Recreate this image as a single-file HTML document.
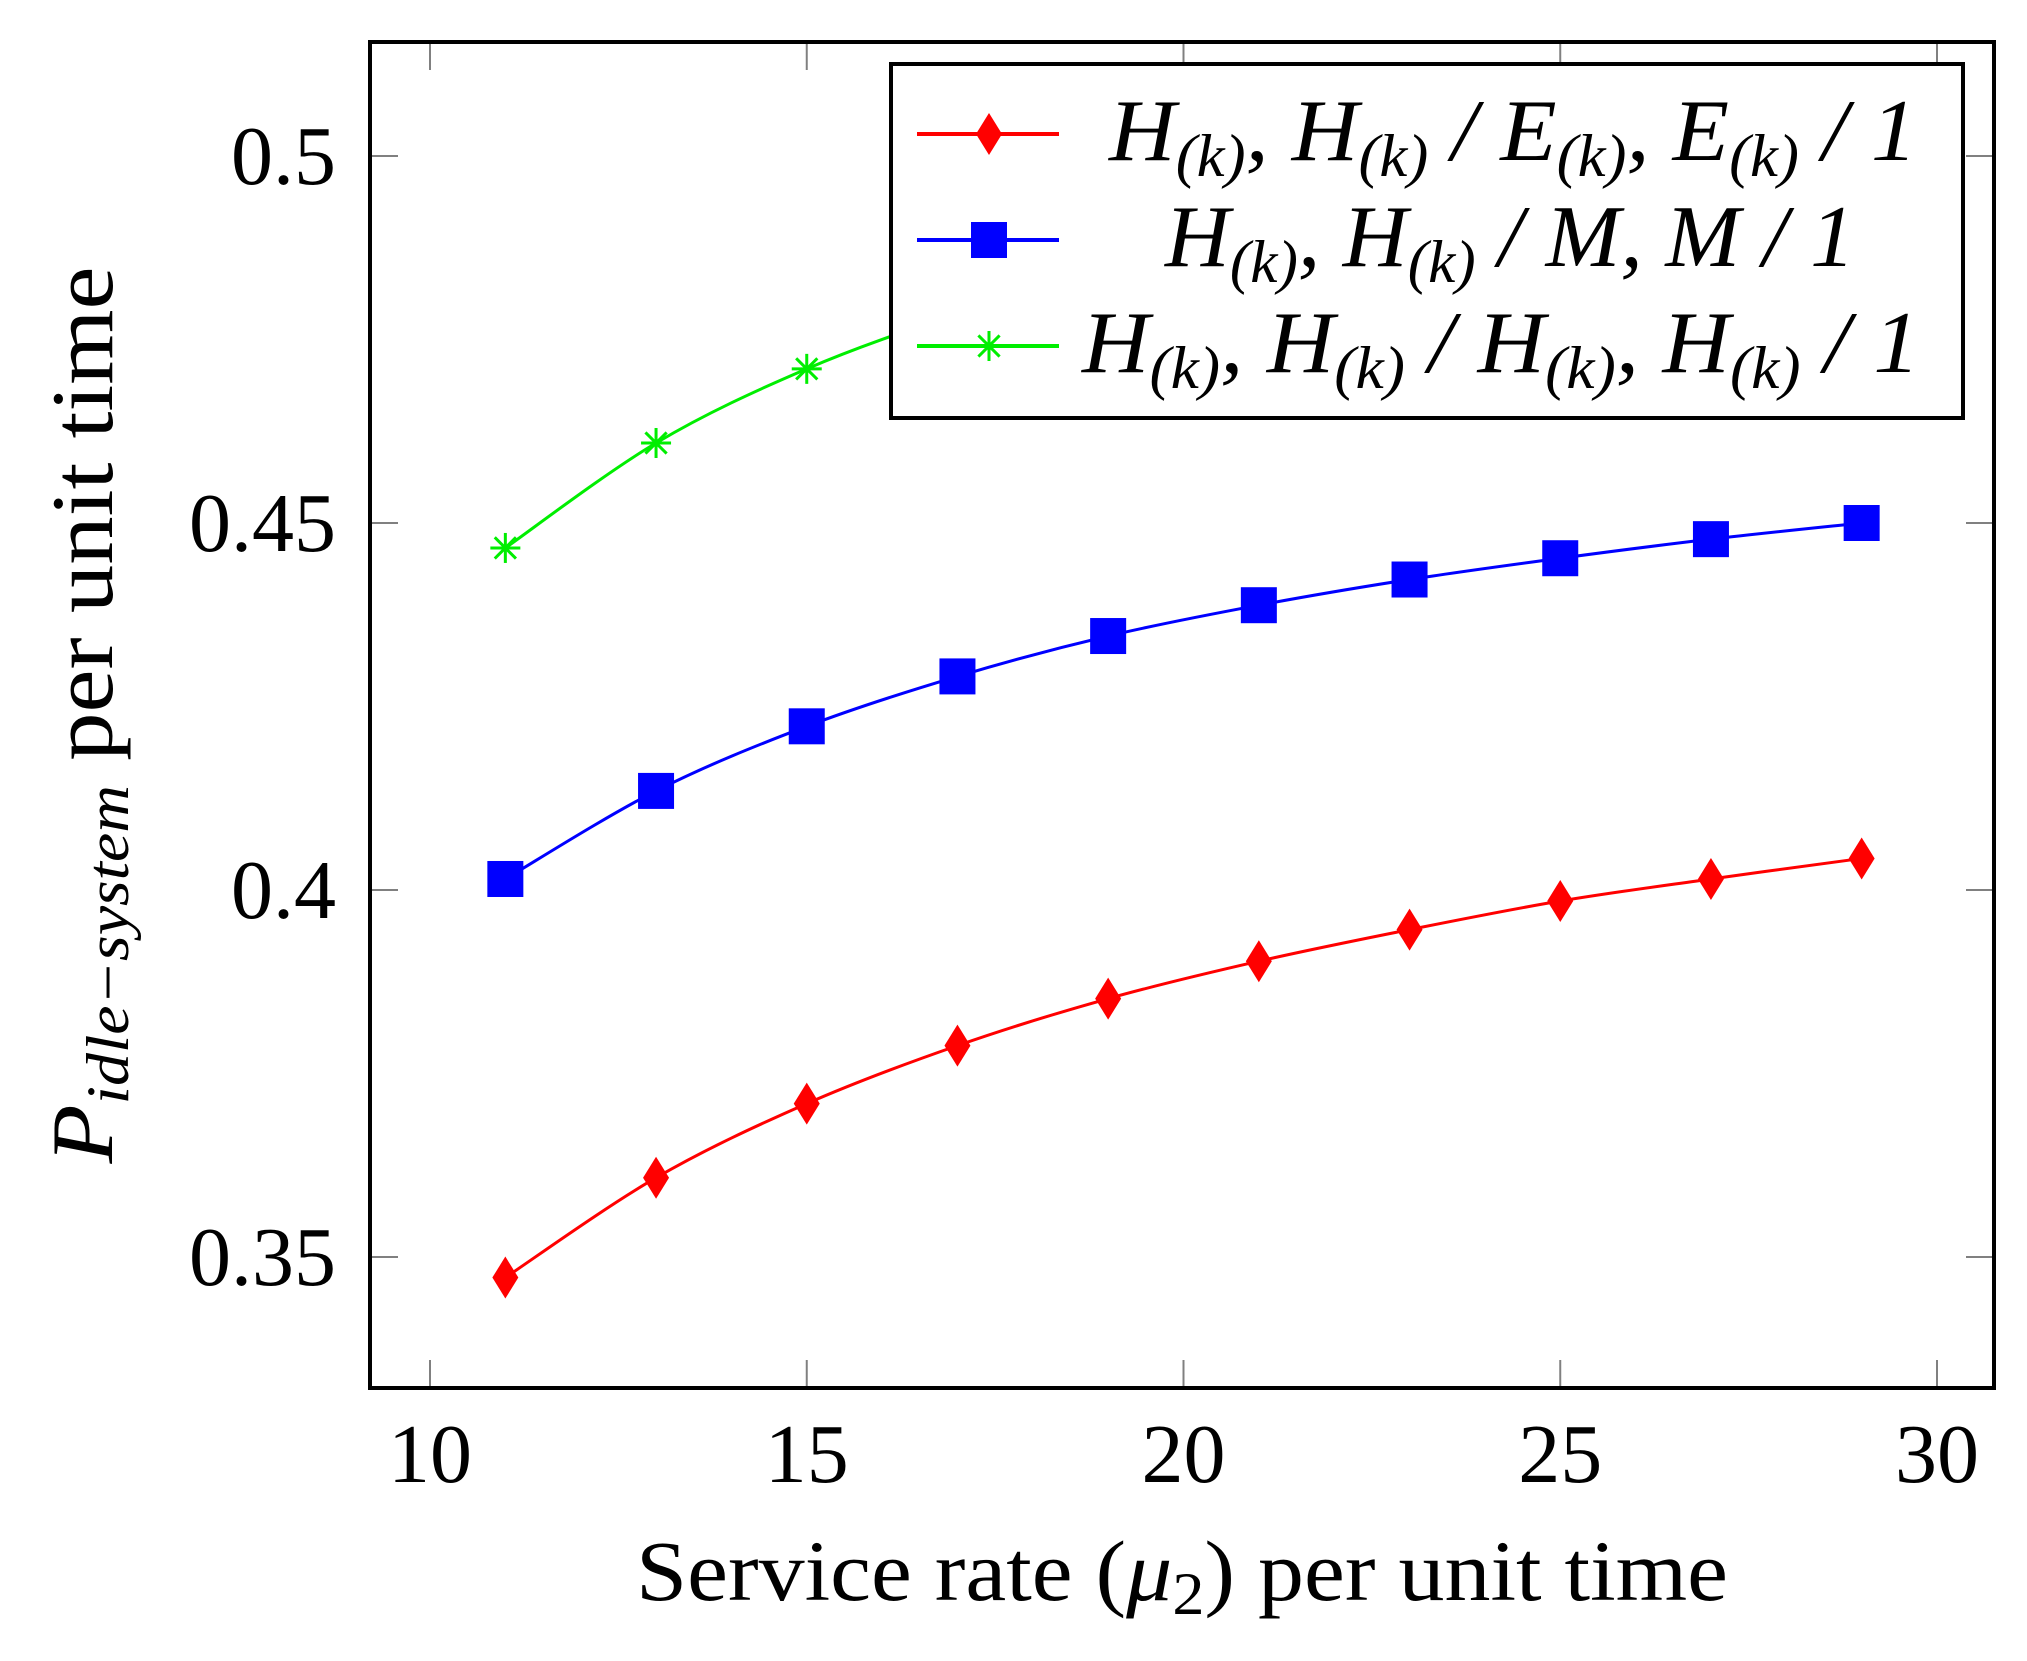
<!DOCTYPE html>
<html><head><meta charset="utf-8"><style>
html,body{margin:0;padding:0;background:#fff;}
svg{display:block;font-family:"Liberation Serif",serif;}
</style></head><body>
<svg id="chart" width="2027" height="1661" viewBox="0 0 2027 1661" xmlns="http://www.w3.org/2000/svg">
<g id="grid"></g>
<g id="series"></g>
<rect x="370" y="42" width="1624" height="1346" fill="none" stroke="#000" stroke-width="4"/>
<g id="labels"></g>
<text x="1182" y="1600" text-anchor="middle" font-size="86" textLength="1092" lengthAdjust="spacingAndGlyphs">Service rate (<tspan font-style="italic">μ</tspan><tspan font-size="60" dy="14">2</tspan><tspan dy="-14">) per unit time</tspan></text>
<text transform="translate(112,715) rotate(-90)" text-anchor="middle" font-size="88" textLength="897" lengthAdjust="spacingAndGlyphs"><tspan font-style="italic">P</tspan><tspan font-style="italic" font-size="60" dy="16">idle−system</tspan><tspan dy="-16"> per unit time</tspan></text>
<g id="legend">
<rect x="891" y="64" width="1072" height="354" fill="#fff" stroke="#000" stroke-width="4"/>
</g>
</svg>
<script>
const xValues = [11,13,15,17,19,21,23,25,27,29];
const redValues = [0.3472,0.3608,0.3709,0.3788,0.3852,0.3903,0.3946,0.3985,0.4015,0.4043];
const blueValues = [0.4015,0.4135,0.4223,0.4291,0.4346,0.4388,0.4423,0.4452,0.4478,0.4500];
const greenValues = [0.4466,0.4609,0.4710,0.4785,0.4845,0.4890,0.4925,0.4955,0.4980,0.5003];
const xTicks = [10,15,20,25,30];
const yTicks = [0.35,0.4,0.45,0.5];
const yTickLabels = ["0.35","0.4","0.45","0.5"];

const NS="http://www.w3.org/2000/svg";
const xs = v => 430 + (v-10)*(1937-430)/20;
const ys = v => 890 - (v-0.4)*(367/0.05);
function mk(tag, attrs, parent){const e=document.createElementNS(NS,tag);for(const k in attrs)e.setAttribute(k,attrs[k]);parent.appendChild(e);return e;}
const grid=document.getElementById('grid'), labels=document.getElementById('labels'), series=document.getElementById('series'), legend=document.getElementById('legend');

xTicks.forEach(t=>{
  const x=xs(t);
  let a=mk('line',{x1:x,x2:x,y1:1388,y2:1360,stroke:'#808080','stroke-width':2},grid);
  
  
  let b=mk('line',{x1:x,x2:x,y1:42,y2:70,stroke:'#808080','stroke-width':2},grid);
  
  
  const tx=mk('text',{x:x,y:1482,'text-anchor':'middle','font-size':84},labels);
  tx.textContent=t;
  
  
});
yTicks.forEach((t,i)=>{
  const y=ys(t);
  let a=mk('line',{x1:370,x2:398,y1:y,y2:y,stroke:'#808080','stroke-width':2},grid);
  
  
  let b=mk('line',{x1:1966,x2:1994,y1:y,y2:y,stroke:'#808080','stroke-width':2},grid);
  
  
  const tx=mk('text',{x:336,y:y+28,'text-anchor':'end','font-size':84},labels);
  tx.textContent=yTickLabels[i];
  
  
});

function marker(kind,x,y,color,parent){
  let e;
  if(kind==='diamond'){e=mk('polygon',{points:`${x},${y-21} ${x+13},${y} ${x},${y+21} ${x-13},${y}`,fill:color},parent);}
  else if(kind==='square'){e=mk('rect',{x:x-18,y:y-18,width:36,height:36,fill:color},parent);}
  else {e=mk('g',{stroke:color,'stroke-width':3},parent);
    for(let k=0;k<4;k++){const a=k*Math.PI/4;mk('line',{x1:x-15*Math.cos(a),y1:y-15*Math.sin(a),x2:x+15*Math.cos(a),y2:y+15*Math.sin(a)},e);}}
  return e;
}
const defs=[{vals:redValues,color:'#ff0000',kind:'diamond',name:'red'},{vals:blueValues,color:'#0000ff',kind:'square',name:'blue'},{vals:greenValues,color:'#00ee00',kind:'star',name:'green'}];
defs.forEach(d=>{
  const pts=xValues.map((x,i)=>[xs(x),ys(d.vals[i])]);
  let p='M'+pts[0][0]+','+pts[0][1];
  for(let i=0;i<pts.length-1;i++){
    const p0=pts[Math.max(0,i-1)],p1=pts[i],p2=pts[i+1],p3=pts[Math.min(pts.length-1,i+2)];
    p+=` C${p1[0]+(p2[0]-p0[0])/6},${p1[1]+(p2[1]-p0[1])/6} ${p2[0]-(p3[0]-p1[0])/6},${p2[1]-(p3[1]-p1[1])/6} ${p2[0]},${p2[1]}`;
  }
  const g=mk('g',{},series);
  
  
  const path=mk('path',{d:p,fill:'none',stroke:d.color,'stroke-width':3},g);
  
  
  pts.forEach(pt=>{const m=marker(d.kind,pt[0],pt[1],d.color,g);
    
    });
});

const rowsY=[134,240,346];
const rowCenters=[1513,1510,1501];
const rowWidths=[808,690,838];
const S='<tspan font-style="italic" font-size="60" dy="16">(k)</tspan>';
const legendHTML=[
 '<tspan font-style="italic">H</tspan>'+S+'<tspan dy="-16" font-style="italic">, H</tspan>'+S+'<tspan dy="-16" font-style="italic"> / E</tspan>'+S+'<tspan dy="-16" font-style="italic">, E</tspan>'+S+'<tspan dy="-16" font-style="italic"> / 1</tspan>',
 '<tspan font-style="italic">H</tspan>'+S+'<tspan dy="-16" font-style="italic">, H</tspan>'+S+'<tspan dy="-16" font-style="italic"> / M, M / 1</tspan>',
 '<tspan font-style="italic">H</tspan>'+S+'<tspan dy="-16" font-style="italic">, H</tspan>'+S+'<tspan dy="-16" font-style="italic"> / H</tspan>'+S+'<tspan dy="-16" font-style="italic">, H</tspan>'+S+'<tspan dy="-16" font-style="italic"> / 1</tspan>'];
defs.forEach((d,i)=>{
  const y=rowsY[i];
  const g=mk('g',{},legend);
  
  
  mk('line',{x1:917,x2:1059,y1:y,y2:y,stroke:d.color,'stroke-width':4},g);
  marker(d.kind,989,y,d.color,g);
  const t=mk('text',{x:rowCenters[i]-rowWidths[i]/2,y:y+26,'font-size':88,textLength:rowWidths[i],lengthAdjust:'spacingAndGlyphs'},g);
  t.innerHTML=legendHTML[i];
  
  
});
</script>
</body></html>
